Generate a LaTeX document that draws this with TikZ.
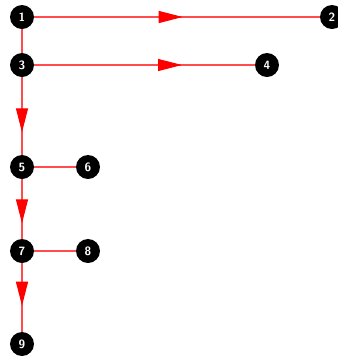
\documentclass[tikz,border=0pt]{standalone}
\usetikzlibrary{arrows.meta,decorations.markings}
\tikzset{
  vert/.style={circle,fill=black,minimum size=24pt,inner sep=0pt,text=white,font=\sffamily\bfseries\large},
  link/.style={draw=red!70,line width=1.1pt},
  flow/.style={link,postaction={decorate},
    decoration={markings,mark=at position #1 with {\arrow[red]{Triangle[length=24pt,width=12pt]}}}}
}
\begin{document}
\begin{tikzpicture}[x=1pt,y=-1pt]
		\clip (0,0) rectangle (338,360);
		\useasboundingbox (0,0) rectangle (338,360);
		\def\c{22}
		\node[vert] (v1) at (\c,17) {1};
		\node[vert] (v2) at (332,17) {2};
		\node[vert] (v3) at (\c,65) {3};
		\node[vert] (v4) at (267,65) {4};
		\node[vert] (v5) at (\c,167) {5};
		\node[vert] (v6) at (88,167) {6};
		\node[vert] (v7) at (\c,251) {7};
		\node[vert] (v8) at (88,251) {8};
		\node[vert] (v9) at (\c,344) {9};
		\draw[flow=0.52] (v1) -- (v2);
		\draw[link] (v1) -- (v3);
		\draw[flow=0.67] (v3) -- (v4);
		\draw[flow=0.71] (v3) -- (v5);
		\draw[link] (v5) -- (v6);
		\draw[flow=0.74] (v5) -- (v7);
		\draw[link] (v7) -- (v8);
		\draw[flow=0.62] (v7) -- (v9);
	\end{tikzpicture}
\end{document}
